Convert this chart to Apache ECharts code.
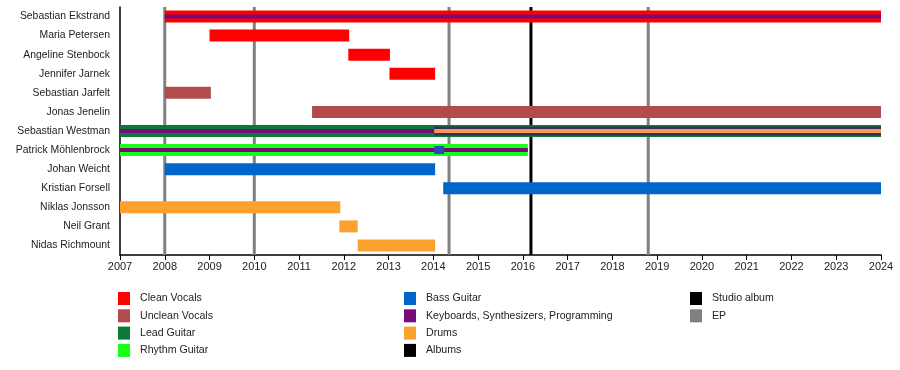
<!DOCTYPE html>
<html>
<head>
<meta charset="utf-8">
<script src="https://cdn.jsdelivr.net/npm/echarts@6/dist/echarts.min.js"></script>
<style>
html,body{margin:0;padding:0;background:#fff;}
#c{width:900px;height:370px;}
</style>
</head>
<body>
<div id="c"></div>
<script>
// ---- data ----
const members = ["Sebastian Ekstrand","Maria Petersen","Angeline Stenbock","Jennifer Jarnek","Sebastian Jarfelt","Jonas Jenelin","Sebastian Westman","Patrick Möhlenbrock","Johan Weicht","Kristian Forsell","Niklas Jonsson","Neil Grant","Nidas Richmount"];
const cleanVocals = [["Sebastian Ekstrand",2008,2024],["Maria Petersen",2009,2012.12],["Angeline Stenbock",2012.1,2013.03],["Jennifer Jarnek",2013.02,2014.04]];
const uncleanVocals = [["Sebastian Jarfelt",2008,2009.03],["Jonas Jenelin",2011.29,2024]];
const leadGuitar = [["Sebastian Westman",2007,2024]];
const rhythmGuitar = [["Patrick Möhlenbrock",2007,2016.11]];
const bassGuitar = [["Johan Weicht",2008,2014.04],["Kristian Forsell",2014.22,2024]];
const bassGuitarOverlay = [["Patrick Möhlenbrock",2014.02,2014.24]];
const keyboards = [["Sebastian Ekstrand",2008,2024],["Sebastian Westman",2007,2014.02],["Patrick Möhlenbrock",2007,2016.11]];
const keyboardsWide = [["Sebastian Westman",2014.02,2024]];
const drums = [["Niklas Jonsson",2007,2011.92],["Neil Grant",2011.9,2012.31],["Nidas Richmount",2012.31,2014.04]];
const drumsOverlay = [["Sebastian Westman",2014.02,2024]];
const studioAlbums = [2016.18];
const eps = [2008, 2010, 2014.35, 2018.8];
const legendCol1 = ["Clean Vocals","Unclean Vocals","Lead Guitar","Rhythm Guitar"];
const legendCol2 = ["Bass Guitar","Keyboards, Synthesizers, Programming","Drums","Albums"];
const legendCol3 = ["Studio album","EP"];

// ---- styles ----
const colors = {
  "Clean Vocals":"#ff0000",
  "Unclean Vocals":"#b24c4c",
  "Lead Guitar":"#0a7a3a",
  "Rhythm Guitar":"#16ff16",
  "Bass Guitar":"#0066cc",
  "Keyboards, Synthesizers, Programming":"#7a0a7a",
  "Drums":"#fba12e",
  "Albums":"#000000",
  "Studio album":"#000000",
  "EP":"#808080"
};
const FONT = "'Liberation Sans', Arial, Helvetica, sans-serif";

function barSeries(name, data, thickness, color, z) {
  return {
    type: 'custom',
    name: name,
    z: z,
    encode: { x: [1, 2], y: 0 },
    data: data.map(d => [members.indexOf(d[0]), d[1], d[2]]),
    renderItem: function (params, api) {
      const cat = api.value(0);
      const p0 = api.coord([api.value(1), cat]);
      const p1 = api.coord([api.value(2), cat]);
      const cs = params.coordSys;
      const rect = echarts.graphic.clipRectByRect(
        { x: p0[0], y: p0[1] - thickness / 2, width: p1[0] - p0[0], height: thickness },
        { x: cs.x, y: cs.y, width: cs.width, height: cs.height }
      );
      return rect && { type: 'rect', shape: rect, style: { fill: color } };
    }
  };
}

function lineSeries(name, data, color, width) {
  return {
    type: 'custom',
    name: name,
    z: 1,
    encode: { x: 0 },
    data: data.map(v => [v]),
    renderItem: function (params, api) {
      const cs = params.coordSys;
      const x = api.coord([api.value(0), 0])[0];
      return { type: 'rect', shape: { x: x - width / 2, y: cs.y, width: width, height: cs.height }, style: { fill: color } };
    }
  };
}

function legendGraphics(names, x0) {
  const els = [];
  names.forEach((n, i) => {
    const yc = 298.5 + i * 17.3;
    els.push({ type: 'rect', x: x0, y: yc - 6.5, shape: { x: 0, y: 0, width: 12, height: 13 }, style: { fill: colors[n] } });
    els.push({ type: 'text', x: x0 + 22, y: yc, style: { text: n, fill: '#222', font: '10.6px ' + FONT, verticalAlign: 'middle', textVerticalAlign: 'middle', align: 'left' } });
  });
  return els;
}

const chart = echarts.init(document.getElementById('c'), null, { renderer: 'canvas' });
chart.setOption({
  animation: false,
  backgroundColor: '#fff',
  grid: { left: 120, right: 19, top: 7, bottom: 115 },
  xAxis: {
    type: 'value', min: 2007, max: 2024, interval: 1,
    axisLine: { show: true, lineStyle: { color: '#000', width: 1.5 } },
    axisTick: { show: true, length: 5, lineStyle: { color: '#000' } },
    axisLabel: { color: '#222', fontSize: 11, fontFamily: FONT, margin: 6, formatter: v => String(v) },
    splitLine: { show: false }
  },
  yAxis: {
    type: 'category', data: members, inverse: true,
    axisLine: { show: true, lineStyle: { color: '#000', width: 1.5 } },
    axisTick: { show: false },
    axisLabel: { color: '#222', fontSize: 10.4, fontFamily: FONT, margin: 10 },
    splitLine: { show: false }
  },
  graphic: [].concat(legendGraphics(legendCol1, 118), legendGraphics(legendCol2, 404), legendGraphics(legendCol3, 690)),
  series: [
    lineSeries('EP', eps, colors['EP'], 3),
    lineSeries('Studio album', studioAlbums, colors['Studio album'], 3),
    barSeries('Clean Vocals', cleanVocals, 12, colors['Clean Vocals'], 2),
    barSeries('Unclean Vocals', uncleanVocals, 12, colors['Unclean Vocals'], 2),
    barSeries('Lead Guitar', leadGuitar, 12, colors['Lead Guitar'], 2),
    barSeries('Rhythm Guitar', rhythmGuitar, 12, colors['Rhythm Guitar'], 2),
    barSeries('Bass Guitar', bassGuitar, 12, colors['Bass Guitar'], 2),
    barSeries('Keyboards wide', keyboardsWide, 9, '#383056', 3),
    barSeries('Keyboards, Synthesizers, Programming', keyboards, 4, colors['Keyboards, Synthesizers, Programming'], 4),
    barSeries('Bass overlay', bassGuitarOverlay, 8, '#2a4cb8', 5),
    barSeries('Drums overlay', drumsOverlay, 4, '#f79a55', 5),
    barSeries('Drums', drums, 12, colors['Drums'], 2)
  ]
});
</script>
</body>
</html>
